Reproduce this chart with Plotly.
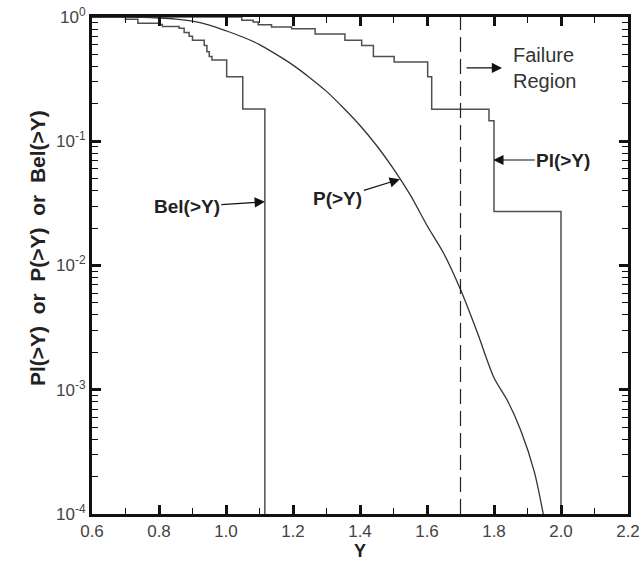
import plotly.graph_objects as go

# ---- data ----
bel_y = [0.6, 0.700, 0.737, 0.800, 0.810, 0.860, 0.875, 0.890, 0.900, 0.935, 0.943, 0.950, 0.958, 1.002, 1.050, 1.116]
bel_p = [1.0, 0.960, 0.890, 0.870, 0.840, 0.810, 0.750, 0.700, 0.650, 0.590, 0.525, 0.480, 0.450, 0.330, 0.182, 1e-6]

pl_y = [0.6, 1.047, 1.081, 1.096, 1.136, 1.196, 1.266, 1.355, 1.405, 1.440, 1.502, 1.602, 1.614, 1.785, 1.800, 2.000]
pl_p = [1.0, 0.940, 0.910, 0.867, 0.830, 0.805, 0.730, 0.650, 0.590, 0.480, 0.435, 0.331, 0.181, 0.146, 0.0272, 1e-6]

p_y = [0.6, 0.70, 0.75, 0.80, 0.85, 0.90, 0.95, 1.00, 1.05, 1.10, 1.15, 1.20, 1.25, 1.30, 1.35, 1.40,
       1.45, 1.50, 1.55, 1.60, 1.65, 1.70, 1.75, 1.80, 1.84, 1.88, 1.92, 1.947]
p_p = [1.0, 0.998, 0.994, 0.982, 0.962, 0.925, 0.862, 0.775, 0.690, 0.600, 0.500, 0.410, 0.325, 0.252, 0.186, 0.134,
       0.092, 0.060, 0.037, 0.021, 0.0125, 0.0064, 0.0029, 0.00125, 0.00082, 0.00047, 0.00022, 0.0001]

x_ticks = [0.6, 0.8, 1.0, 1.2, 1.4, 1.6, 1.8, 2.0, 2.2]
y_tickvals = [1, 0.1, 0.01, 0.001, 0.0001]
y_ticktext = ["10<sup>0</sup>", "10<sup>-1</sup>", "10<sup>-2</sup>", "10<sup>-3</sup>", "10<sup>-4</sup>"]
failure_y = 1.7

FONT = "Liberation Sans, Arial, Helvetica, sans-serif"

fig = go.Figure()
fig.add_trace(go.Scatter(x=bel_y, y=bel_p, mode="lines", line=dict(shape="hv", color="#505050", width=1.5),
                         showlegend=False, hoverinfo="skip"))
fig.add_trace(go.Scatter(x=pl_y, y=pl_p, mode="lines", line=dict(shape="hv", color="#505050", width=1.5),
                         showlegend=False, hoverinfo="skip"))
fig.add_trace(go.Scatter(x=p_y, y=p_p, mode="lines", line=dict(shape="spline", smoothing=0.8, color="#333333", width=1.3),
                         showlegend=False, hoverinfo="skip"))

fig.add_shape(type="line", xref="x", yref="paper", x0=failure_y, x1=failure_y, y0=0, y1=1,
              line=dict(color="#222222", width=1.2, dash="15px,7px"))

ann_font = dict(family=FONT, size=19, color="#222222")
arr = dict(arrowhead=2, arrowsize=1.7, arrowwidth=1.2, arrowcolor="#111111")
fig.add_annotation(x=1.116, y=-1.487, xref="x", yref="y", text="<b>Bel(>Y)</b>", showarrow=True,
                   ax=-78, ay=5, font=ann_font, **arr)
fig.add_annotation(x=1.519, y=-1.306, xref="x", yref="y", text="<b>P(>Y)</b>", showarrow=True,
                   ax=-62, ay=19, font=ann_font, **arr)
fig.add_annotation(x=1.798, y=-1.151, xref="x", yref="y", text="<b>Pl(>Y)</b>", showarrow=True,
                   ax=70, ay=0, font=ann_font, **arr)
fig.add_annotation(x=1.824, y=-0.41, xref="x", yref="y", text="", showarrow=True,
                   ax=-37, ay=0, **arr)
fig.add_annotation(x=1.952, y=-0.41, xref="x", yref="y", text="Failure<br>Region", showarrow=False,
                   font=dict(family=FONT, size=20, color="#333333"), align="left")

# y-axis title as rotated text
fig.add_annotation(x=-0.1026, y=0.535, xref="paper", yref="paper", xanchor="center", yanchor="middle",
                   textangle=-90, showarrow=False,
                   text="<b>Pl(>Y)\u00a0\u00a0or\u00a0\u00a0P(>Y)\u00a0\u00a0or\u00a0\u00a0Bel(>Y)</b>",
                   font=dict(family=FONT, size=21, color="#222222"))

fig.update_xaxes(range=[0.6, 2.2], tickvals=x_ticks, tickformat=".1f",
                 ticks="inside", ticklen=9, tickwidth=3, tickcolor="#111111",
                 minor=dict(dtick=0.1, tick0=0.6, ticks="inside", ticklen=6, tickwidth=1, tickcolor="#111111"),
                 showline=True, linewidth=3, linecolor="#111111", mirror="ticks",
                 showgrid=False, zeroline=False, ticklabeloverflow="allow",
                 tickfont=dict(family=FONT, size=17, color="#444444"),
                 title=dict(text="<b>Y</b>", font=dict(family=FONT, size=18, color="#222222"), standoff=0))
fig.update_yaxes(type="log", range=[-4, 0], tickvals=y_tickvals, ticktext=y_ticktext,
                 ticks="inside", ticklen=9, tickwidth=3, tickcolor="#111111",
                 minor=dict(dtick="D1", ticks="inside", ticklen=6, tickwidth=1, tickcolor="#111111"),
                 showline=True, linewidth=3, linecolor="#111111", mirror="ticks",
                 showgrid=False, zeroline=False, ticklabeloverflow="allow",
                 tickfont=dict(family=FONT, size=17, color="#444444"))

# plot area at x 92-628, y 17-514 of the 644x569 page (body margin removed below)
fig.update_layout(width=644, height=569, margin=dict(l=92, r=16, t=17, b=55, autoexpand=False),
                  plot_bgcolor="white", paper_bgcolor="white", hovermode=False)

fig.write_html("out.html", config={"displayModeBar": False, "staticPlot": True},
               post_script="document.body.style.margin='0px';")
